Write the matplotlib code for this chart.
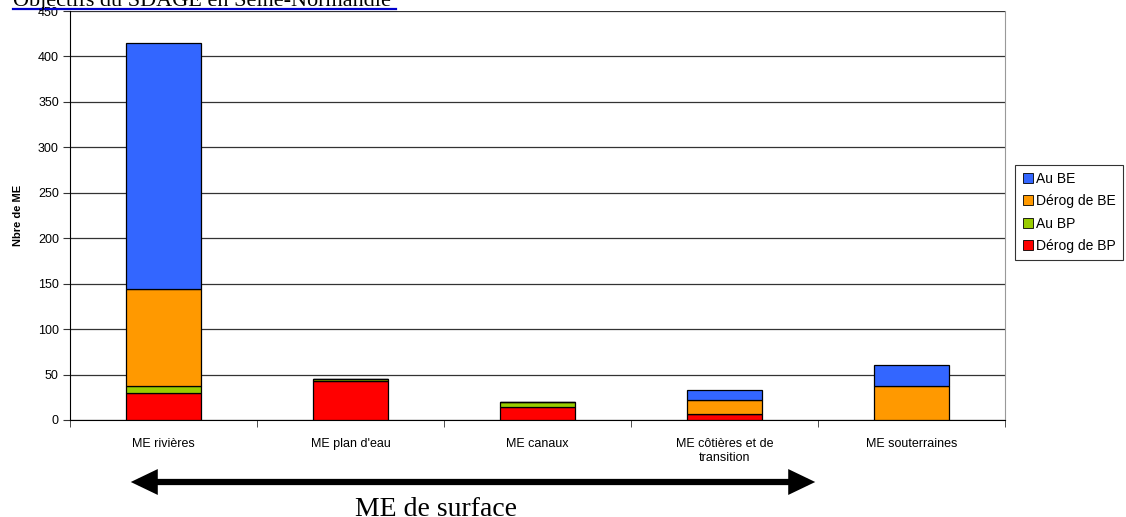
import numpy as np
import matplotlib
matplotlib.use('Agg')
import matplotlib.pyplot as plt
from matplotlib.lines import Line2D
from matplotlib.patches import FancyArrowPatch

plt.rcParams['font.family'] = ['Liberation Sans', 'DejaVu Sans']

categories = ['ME rivières', "ME plan d'eau", 'ME canaux',
              'ME côtières et de\ntransition', 'ME souterraines']
derog_bp = [30, 43, 14, 7, 0]
au_bp = [7, 2, 6, 0, 0]
derog_be = [107, 0, 0, 15, 37]
au_be = [271, 0, 0, 11, 23]

series = [('Dérog de BP', derog_bp, '#FF0000'),
          ('Au BP', au_bp, '#99CC00'),
          ('Dérog de BE', derog_be, '#FF9900'),
          ('Au BE', au_be, '#3366FF')]

fig = plt.figure(figsize=(11.26, 5.17), dpi=100)
ax = fig.add_axes([70 / 1126, 97 / 517, 935 / 1126, 409 / 517])

x = np.arange(len(categories))
bottom = np.zeros(len(categories))
for name, vals, col in series:
  vals = np.array(vals, dtype=float)
  ax.bar(x, vals, 0.4, bottom=bottom, color=col, edgecolor='black',
         linewidth=0.9, zorder=3)
  bottom += vals

ax.set_xlim(-0.5, len(categories) - 0.5)
ax.set_ylim(0, 450)
ax.set_yticks(np.arange(0, 451, 50))
ax.yaxis.grid(True, color='#333333', linewidth=0.9, zorder=0)
ax.set_xticks(x)
ax.set_xticklabels(categories, fontsize=9)
ax.set_xticks(np.arange(-0.5, len(categories), 1), minor=True)
ax.tick_params(axis='x', which='major', length=0, pad=13)
ax.tick_params(axis='x', which='minor', length=5, direction='out',
               color='#333333')
ax.tick_params(axis='y', length=5, direction='out', labelsize=9, pad=3,
               color='#333333')
for s in ['left', 'bottom']:
  ax.spines[s].set_color('black')
ax.spines['right'].set_color('#999999')
ax.spines['top'].set_visible(False)
ax.set_ylabel('Nbre de ME', fontsize=8, fontweight='bold', labelpad=11)

order = ['Au BE', 'Dérog de BE', 'Au BP', 'Dérog de BP']
cols = {n: c for n, _, c in series}
leg_handles = [Line2D([], [], marker='s', linestyle='none', markersize=6.5,
                      markerfacecolor=cols[n], markeredgecolor='black',
                      markeredgewidth=0.6) for n in order]
leg = fig.legend(leg_handles, order, loc='upper left',
                 bbox_to_anchor=(1015 / 1126, 1 - 165 / 517),
                 fontsize=10, frameon=True, fancybox=False,
                 handletextpad=0.1, handlelength=0.9, borderpad=0.5,
                 labelspacing=0.6, borderaxespad=0)
leg.get_frame().set_edgecolor('black')
leg.get_frame().set_linewidth(0.8)

# titre coupé en haut
fig.text(13 / 1126, 1 - 6 / 517, 'Objectifs du SDAGE en Seine-Normandie',
         family='Liberation Serif', fontsize=16, va='baseline', ha='left',
         color='black')
fig.add_artist(Line2D([13 / 1126, 396 / 1126], [1 - 9 / 517, 1 - 9 / 517],
                      color='#0000CC', linewidth=1.6))

# flèche "ME de surface"
arr = FancyArrowPatch((128 / 1126, 1 - 482 / 517), (818 / 1126, 1 - 482 / 517),
                      transform=fig.transFigure,
                      arrowstyle='<|-|>,head_length=0.5,head_width=0.24',
                      mutation_scale=24, linewidth=4.5, color='black',
                      joinstyle='miter', capstyle='butt')
fig.add_artist(arr)
fig.text(436 / 1126, 1 - 516 / 517, 'ME de surface', family='Liberation Serif',
         fontsize=20, ha='center', va='baseline')

fig.savefig('out.png', dpi=100)
